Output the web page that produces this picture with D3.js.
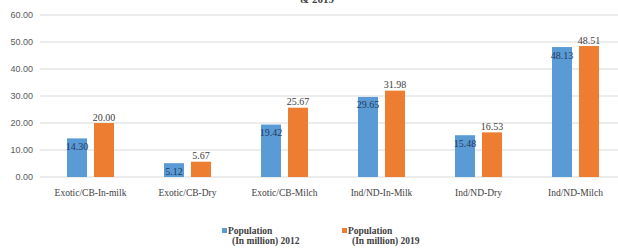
<!DOCTYPE html>
<html lang="en">
  <head>
    <meta charset="utf-8" />
    <title>Population 2012 & 2019</title>
    <script src="https://cdnjs.cloudflare.com/ajax/libs/d3/7.8.5/d3.min.js"></script>
    <style>
      body {
        margin: 0;
        background: #ffffff;
      }
      .tick-label {
        font-family: "Liberation Sans", sans-serif;
        font-size: 9px;
        fill: #595959;
      }
      .cat-label {
        font-family: "Liberation Serif", serif;
        font-size: 9.5px;
        fill: #404040;
      }
      .val-label {
        font-family: "Liberation Serif", serif;
        font-size: 10px;
      }
      .legend-text {
        font-family: "Liberation Serif", serif;
        font-size: 9.5px;
        font-weight: bold;
        fill: #404040;
      }
    </style>
  </head>
  <body>
    <div id="chart"></div>
    <script>
      // data
      const categories = [
        "Exotic/CB-In-milk",
        "Exotic/CB-Dry",
        "Exotic/CB-Milch",
        "Ind/ND-In-Milk",
        "Ind/ND-Dry",
        "Ind/ND-Milch",
      ];
      const pop2012 = [14.3, 5.12, 19.42, 29.65, 15.48, 48.13];
      const pop2019 = [20.0, 5.67, 25.67, 31.98, 16.53, 48.51];
      const yTicks = [0, 10, 20, 30, 40, 50, 60];
      const seriesNames = ["2012", "2019"];
      const legendLines = [
        ["Population", "(In million) 2012"],
        ["Population", "(In million) 2019"],
      ];

      const width = 618;
      const height = 252;
      const colors = { "2012": "#5b9bd5", "2019": "#ed7d31" };

      const svg = d3
        .select("#chart")
        .append("svg")
        .attr("width", width)
        .attr("height", height);

      const y = d3.scaleLinear().domain([0, 60]).range([177, 15]);

      const x0 = d3
        .scaleBand()
        .domain(categories)
        .range([42, 624])
        .paddingInner(0.515)
        .paddingOuter(0.2575);

      const x1 = d3
        .scaleBand()
        .domain(seriesNames)
        .range([0, x0.bandwidth()])
        .paddingInner(0.259);

      // title, mostly cut off at the top
      svg
        .append("text")
        .attr("x", 300)
        .attr("y", 3)
        .style("font-family", "Liberation Serif, serif")
        .style("font-size", "11px")
        .style("font-weight", "bold")
        .style("fill", "#404040")
        .text("& 2019");

      // gridlines
      svg
        .selectAll(".grid")
        .data(yTicks)
        .enter()
        .append("line")
        .attr("x1", 40)
        .attr("x2", width)
        .attr("y1", (d) => y(d))
        .attr("y2", (d) => y(d))
        .attr("stroke", "#d9d9d9")
        .attr("stroke-width", 1);

      svg
        .selectAll(".tick-label")
        .data(yTicks)
        .enter()
        .append("text")
        .attr("class", "tick-label")
        .attr("x", 33)
        .attr("y", (d) => y(d))
        .attr("dy", "0.35em")
        .attr("text-anchor", "end")
        .text((d) => d.toFixed(2));

      const rows = categories.map((c, i) => ({
        cat: c,
        vals: [
          { s: "2012", v: pop2012[i] },
          { s: "2019", v: pop2019[i] },
        ],
      }));

      const groups = svg
        .selectAll(".group")
        .data(rows)
        .enter()
        .append("g")
        .attr("transform", (d) => `translate(${x0(d.cat)},0)`);

      groups
        .selectAll("rect")
        .data((d) => d.vals)
        .enter()
        .append("rect")
        .attr("x", (d) => x1(d.s))
        .attr("y", (d) => y(d.v))
        .attr("width", x1.bandwidth())
        .attr("height", (d) => y(0) - y(d.v))
        .attr("fill", (d) => colors[d.s]);

      // value labels: 2012 inside the bar top, 2019 above it
      groups
        .selectAll(".val-label")
        .data((d) => d.vals)
        .enter()
        .append("text")
        .attr("class", "val-label")
        .attr("x", (d) => x1(d.s) + x1.bandwidth() / 2)
        .attr("y", (d) => (d.s === "2012" ? y(d.v) + 8 : y(d.v) - 6))
        .attr("dy", "0.35em")
        .attr("text-anchor", "middle")
        .style("fill", (d) => (d.s === "2012" ? "#1f3a60" : "#404040"))
        .text((d) => d.v.toFixed(2));

      svg
        .selectAll(".cat-label")
        .data(categories)
        .enter()
        .append("text")
        .attr("class", "cat-label")
        .attr("x", (d) => x0(d) + x0.bandwidth() / 2)
        .attr("y", 193)
        .attr("dy", "0.35em")
        .attr("text-anchor", "middle")
        .text((d) => d);

      // legend
      const legendX = [222, 342];
      const legend = svg
        .selectAll(".legend")
        .data(seriesNames)
        .enter()
        .append("g")
        .attr("transform", (d, i) => `translate(${legendX[i]},0)`);

      legend
        .append("rect")
        .attr("x", 0)
        .attr("y", 228)
        .attr("width", 5)
        .attr("height", 5)
        .attr("fill", (d) => colors[d]);

      legend
        .append("text")
        .attr("class", "legend-text")
        .attr("x", 6)
        .attr("y", 231)
        .attr("dy", "0.35em")
        .text((d, i) => legendLines[i][0]);

      legend
        .append("text")
        .attr("class", "legend-text")
        .attr("x", 10)
        .attr("y", 241)
        .attr("dy", "0.35em")
        .text((d, i) => legendLines[i][1]);
    </script>
  </body>
</html>
